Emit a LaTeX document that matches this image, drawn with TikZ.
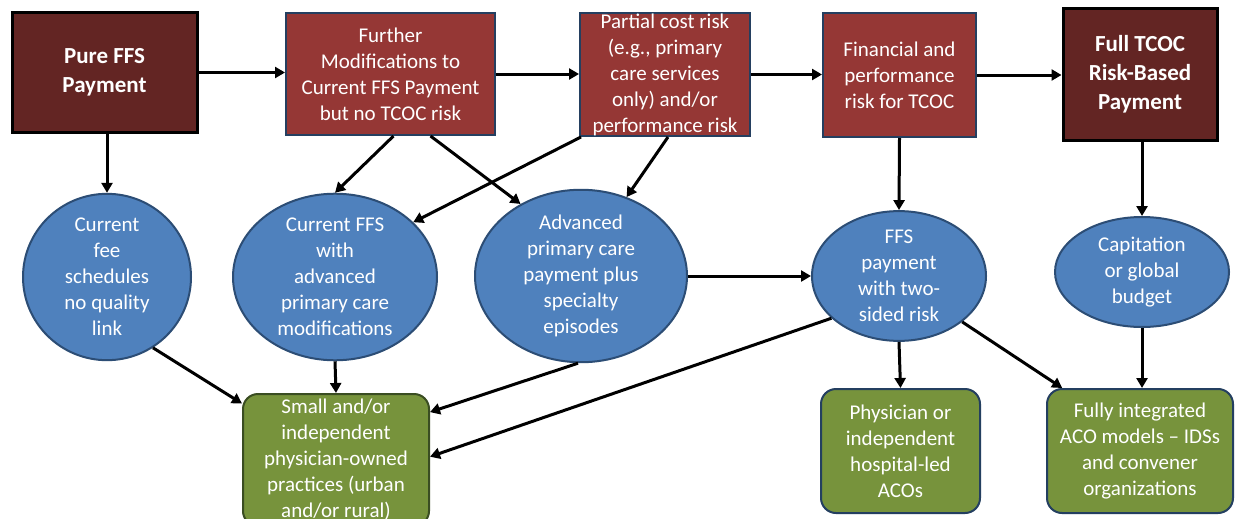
\documentclass[tikz,border=0pt]{standalone}
\usepackage{fontspec}
\setmainfont{Carlito}
\usetikzlibrary{shapes.geometric,arrows.meta,calc}
\definecolor{darkred}{HTML}{632523}
\definecolor{midred}{HTML}{953735}
\definecolor{navyb}{HTML}{243F60}
\definecolor{ellfill}{HTML}{4F81BD}
\definecolor{elldraw}{HTML}{2C4D75}
\definecolor{grnfill}{HTML}{77933C}
\definecolor{grndraw}{HTML}{3A4D22}
\tikzset{
  txt/.style={text=white,align=center,inner sep=0pt,font=\fontsize{21}{26}\selectfont},
  darkbox/.style={txt,rectangle,fill=darkred,draw=black,line width=3pt,font=\fontsize{23}{29}\selectfont\bfseries},
  redbox/.style={txt,rectangle,fill=midred,draw=navyb,line width=2pt},
  ellnode/.style={txt,ellipse,fill=ellfill,draw=elldraw,line width=2pt},
  grnbox/.style={txt,rectangle,rounded corners=15pt,fill=grnfill,draw=navyb,line width=2pt},
  arr/.style={line width=3pt,-{Triangle[length=10pt,width=11pt]}}
}
\begin{document}
\begin{tikzpicture}[x=1pt,y=-1pt]
\clip (0,0) rectangle (1236,519);
\fill[white] (0,0) rectangle (1236,519);
% top row
\node[darkbox,minimum width=185pt,minimum height=119pt] (pure) at (104.5,72.5) {Pure FFS\\Payment};
\node[redbox,minimum width=209pt,minimum height=122pt] (further) at (390.5,74) {Further\\Modifications to\\Current FFS Payment\\but no TCOC risk};
\node[redbox,minimum width=170pt,minimum height=123pt] (partial) at (665,74.5) {Partial cost risk\\(e.g., primary\\care services\\only) and/or\\performance risk};
\node[redbox,minimum width=153pt,minimum height=124pt] (fin) at (899.5,75) {Financial and\\performance\\risk for TCOC};
\node[darkbox,minimum width=154pt,minimum height=131pt] (full) at (1140,74.5) {Full TCOC\\Risk-Based\\Payment};
% ellipses
\node[ellnode,minimum width=168pt,minimum height=140pt] (e1) at (107,277) {Current\\fee\\schedules\\no quality\\link};
\node[ellnode,minimum width=204pt,minimum height=150pt] (e2) at (335,277) {Current FFS\\with\\advanced\\primary care\\modifications};
\node[ellnode,minimum width=212pt,minimum height=146pt] (e3) at (581,276) {Advanced\\primary care\\payment plus\\specialty\\episodes};
\node[ellnode,minimum width=174pt,minimum height=118pt] (e4) at (899,276) {FFS\\payment\\with two-\\sided risk};
\node[ellnode,minimum width=174pt,minimum height=110pt] (e5) at (1142,272) {Capitation\\or global\\budget};
% green boxes
\node[grnbox,draw=grndraw,minimum width=186pt,minimum height=132pt] (g1) at (336,460) {Small and/or\\independent\\physician-owned\\practices (urban\\and/or rural)};
\node[grnbox,minimum width=159pt,minimum height=124pt] (g2) at (900.5,451) {Physician or\\independent\\hospital-led\\ACOs};
\node[grnbox,minimum width=186pt,minimum height=124pt] (g3) at (1140,451) {Fully integrated\\ACO models -- IDSs\\and convener\\organizations};
% top arrows
\draw[arr] (pure.east) -- (pure.east -| further.west);
\draw[arr] (further.east) -- (further.east -| partial.west);
\draw[arr] (partial.east) -- (partial.east -| fin.west);
\draw[arr] (fin.east) -- (fin.east -| full.west);
% down arrows
\draw[arr] (e1.north |- pure.south) -- (e1.north);
\draw[arr] ($(further.south)+(3,0)$) -- (e2.north);
\draw[arr] ($(further.south)+(40,0)$) -- (e3.130);
\draw[arr] ($(partial.south west)+(2,0)$) -- (e2.35);
\draw[arr] ($(partial.south)+(3,0)$) -- (e3.60);
\draw[arr] (e3.east) -- (e4.west);
\draw[arr] (fin.south) -- (e4.north);
\draw[arr] (e5.north |- full.south) -- (e5.north);
% to green
\draw[arr] (e1.-57) -- (g1.149);
\draw[arr] (e2.south) -- (g1.north);
\draw[arr] ($(e3.south)+(-3,0)$) -- (g1.27);
\draw[arr] (e4.212) -- (g1.2);
\draw[arr] (e4.south) -- (g2.north);
\draw[arr] (e4.-36) -- (g3.141);
\draw[arr] (e5.south) -- (e5.south |- g3.north);
\end{tikzpicture}
\end{document}
